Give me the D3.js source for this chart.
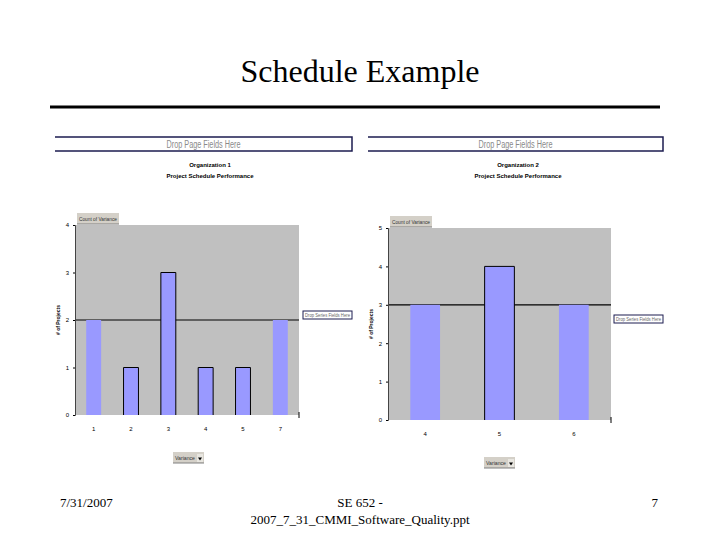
<!DOCTYPE html>
<html>
<head>
<meta charset="utf-8">
<script src="https://cdn.jsdelivr.net/npm/d3@7"></script>
<style>
  body { margin: 0; background: #fff; }
  svg { display: block; }
</style>
</head>
<body>
<div id="chart"></div>
<script>
// data
var org1Cats = ['1', '2', '3', '4', '5', '7'];
var org1Vals = [2, 1, 3, 1, 1, 2];
var org1Ticks = [0, 1, 2, 3, 4];
var org1Grid = 2;

var org2Cats = ['4', '5', '6'];
var org2Vals = [3, 4, 3];
var org2Ticks = [0, 1, 2, 3, 4, 5];
var org2Grid = 3;

var _width = 720, _height = 540;
var svg = d3.select('#chart').append('svg')
    .attr('width', _width)
    .attr('height', _height);

// slide title + rule
svg.append('text')
    .attr('x', 360).attr('y', 82)
    .attr('text-anchor', 'middle')
    .attr('font-family', 'Liberation Serif')
    .attr('font-size', 32)
    .text('Schedule Example');

svg.append('line')
    .attr('x1', 50).attr('x2', 660)
    .attr('y1', 107).attr('y2', 107)
    .attr('stroke', '#000').attr('stroke-width', 3);

function button(g, x, y, w, h, label, arrow) {
    g.append('rect')
        .attr('x', x).attr('y', y).attr('width', w).attr('height', h)
        .attr('fill', '#d4d0c8');
    g.append('line')
        .attr('x1', x).attr('x2', x + w).attr('y1', y + h).attr('y2', y + h)
        .attr('stroke', '#808080');
    g.append('text')
        .attr('x', x + 2).attr('y', y + h - 3)
        .attr('font-family', 'Liberation Sans')
        .attr('font-size', 6)
        .attr('fill', '#333')
        .attr('textLength', w - (arrow ? 11 : 4))
        .attr('lengthAdjust', 'spacingAndGlyphs')
        .text(label);
    if (arrow) {
        g.append('rect')
            .attr('x', x + w - 7).attr('y', y + 2).attr('width', 6).attr('height', h - 3)
            .attr('fill', '#e8e6e0');
        g.append('path')
            .attr('d', 'M' + (x + w - 6) + ',' + (y + h / 2) + 'l4,0l-2,3z')
            .attr('fill', '#000');
    }
}

function drawPanel(p) {
    var g = svg.append('g');
    var rows = p.cats.map(function (c, i) { return { cat: c, val: p.vals[i] }; });

    // page field drop zone
    g.append('path')
        .attr('d', 'M' + p.boxX0 + ',137H' + p.boxX1 + 'V151H' + p.boxX0)
        .attr('fill', 'none')
        .attr('stroke', '#1c1c50')
        .attr('stroke-width', 1.5);
    g.append('text')
        .attr('x', (p.boxX0 + p.boxX1) / 2).attr('y', 148)
        .attr('text-anchor', 'middle')
        .attr('font-family', 'Liberation Sans')
        .attr('font-size', 10)
        .attr('fill', '#8a8a8a')
        .attr('textLength', 74)
        .attr('lengthAdjust', 'spacingAndGlyphs')
        .text('Drop Page Fields Here');

    // chart titles
    g.append('text')
        .attr('x', p.titleX).attr('y', 167)
        .attr('text-anchor', 'middle')
        .attr('font-family', 'Liberation Sans')
        .attr('font-size', 6).attr('font-weight', 'bold')
        .text(p.org);
    g.append('text')
        .attr('x', p.titleX).attr('y', 178)
        .attr('text-anchor', 'middle')
        .attr('font-family', 'Liberation Sans')
        .attr('font-size', 6).attr('font-weight', 'bold')
        .text('Project Schedule Performance');

    var x = d3.scaleBand()
        .domain(p.cats)
        .range([p.left, p.right])
        .paddingInner(0.6)
        .paddingOuter(0.3);
    var y = d3.scaleLinear()
        .domain([0, d3.max(p.ticks)])
        .range([p.bottom, p.top]);

    // plot area
    g.append('rect')
        .attr('x', p.left).attr('y', p.top)
        .attr('width', p.right - p.left).attr('height', p.bottom - p.top)
        .attr('fill', '#c0c0c0');

    g.append('line')
        .attr('x1', p.left).attr('x2', p.right)
        .attr('y1', y(p.grid)).attr('y2', y(p.grid))
        .attr('stroke', '#000').attr('stroke-width', 1.2);

    g.selectAll('.bar')
        .data(rows)
        .enter().append('rect')
        .attr('x', function (d) { return x(d.cat); })
        .attr('y', function (d) { return y(d.val); })
        .attr('width', x.bandwidth())
        .attr('height', function (d) { return p.bottom - y(d.val); })
        .attr('fill', '#9999ff');

    // outline on bars that leave the grid line (sides + top, open bottom)
    g.selectAll('.edge')
        .data(rows.filter(function (d) { return d.val !== p.grid; }))
        .enter().append('path')
        .attr('d', function (d) {
            var x0 = x(d.cat), x1 = x0 + x.bandwidth();
            return 'M' + x0 + ',' + p.bottom + 'V' + y(d.val) + 'H' + x1 + 'V' + p.bottom;
        })
        .attr('fill', 'none')
        .attr('stroke', '#000')
        .attr('stroke-width', 1);

    // axes
    var yAxis = g.append('g')
        .attr('transform', 'translate(' + p.left + ',0)')
        .call(d3.axisLeft(y).tickValues(p.ticks).tickFormat(d3.format('d')).tickSize(2).tickPadding(4));
    yAxis.select('.domain').attr('stroke', '#444');
    yAxis.selectAll('text')
        .attr('fill', '#000')
        .attr('font-family', 'Liberation Sans').attr('font-size', 6);

    var xAxis = g.append('g')
        .attr('transform', 'translate(0,' + p.bottom + ')')
        .call(d3.axisBottom(x).tickSize(0).tickPadding(12));
    xAxis.select('.domain').remove();
    xAxis.selectAll('text')
        .attr('fill', '#000')
        .attr('font-family', 'Liberation Sans').attr('font-size', 6);
    g.append('line')
        .attr('x1', p.right).attr('x2', p.right)
        .attr('y1', p.bottom - 3).attr('y2', p.bottom + 3)
        .attr('stroke', '#000');

    g.append('text')
        .attr('transform', 'translate(' + (p.left - 15) + ',' + ((p.top + p.bottom) / 2) + ')rotate(-90)')
        .attr('text-anchor', 'middle')
        .attr('font-family', 'Liberation Sans')
        .attr('font-size', 5).attr('font-weight', 'bold')
        .text('# of Projects');

    button(g, p.left + 2, p.top - 12, 42, 11, 'Count of Variance', false);
    button(g, p.valX, p.bottom + 37, 31, 11, 'Variance', true);

    // series drop zone
    g.append('rect')
        .attr('x', p.legX).attr('y', p.legY)
        .attr('width', 49).attr('height', 8)
        .attr('fill', '#fff')
        .attr('stroke', '#1c1c50').attr('stroke-width', 1);
    g.append('text')
        .attr('x', p.legX + 24.5).attr('y', p.legY + 6)
        .attr('text-anchor', 'middle')
        .attr('font-family', 'Liberation Sans')
        .attr('font-size', 5)
        .attr('fill', '#666')
        .attr('textLength', 45)
        .attr('lengthAdjust', 'spacingAndGlyphs')
        .text('Drop Series Fields Here');
}

drawPanel({
    org: 'Organization 1', cats: org1Cats, vals: org1Vals, ticks: org1Ticks, grid: org1Grid,
    boxX0: 55, boxX1: 352, titleX: 210,
    left: 75, right: 299, top: 225, bottom: 415,
    legX: 303, legY: 311, valX: 173
});
drawPanel({
    org: 'Organization 2', cats: org2Cats, vals: org2Vals, ticks: org2Ticks, grid: org2Grid,
    boxX0: 368, boxX1: 663, titleX: 518,
    left: 388, right: 611, top: 228, bottom: 420,
    legX: 614, legY: 315, valX: 484
});

// footer
var footer = [
    { x: 60, y: 507, a: 'start', t: '7/31/2007' },
    { x: 360, y: 507, a: 'middle', t: 'SE 652 -' },
    { x: 360, y: 524, a: 'middle', t: '2007_7_31_CMMI_Software_Quality.ppt' },
    { x: 658, y: 507, a: 'end', t: '7' }
];
svg.selectAll('.foot')
    .data(footer)
    .enter().append('text')
    .attr('x', function (d) { return d.x; })
    .attr('y', function (d) { return d.y; })
    .attr('text-anchor', function (d) { return d.a; })
    .attr('font-family', 'Liberation Serif')
    .attr('font-size', 13)
    .text(function (d) { return d.t; });
</script>
</body>
</html>
